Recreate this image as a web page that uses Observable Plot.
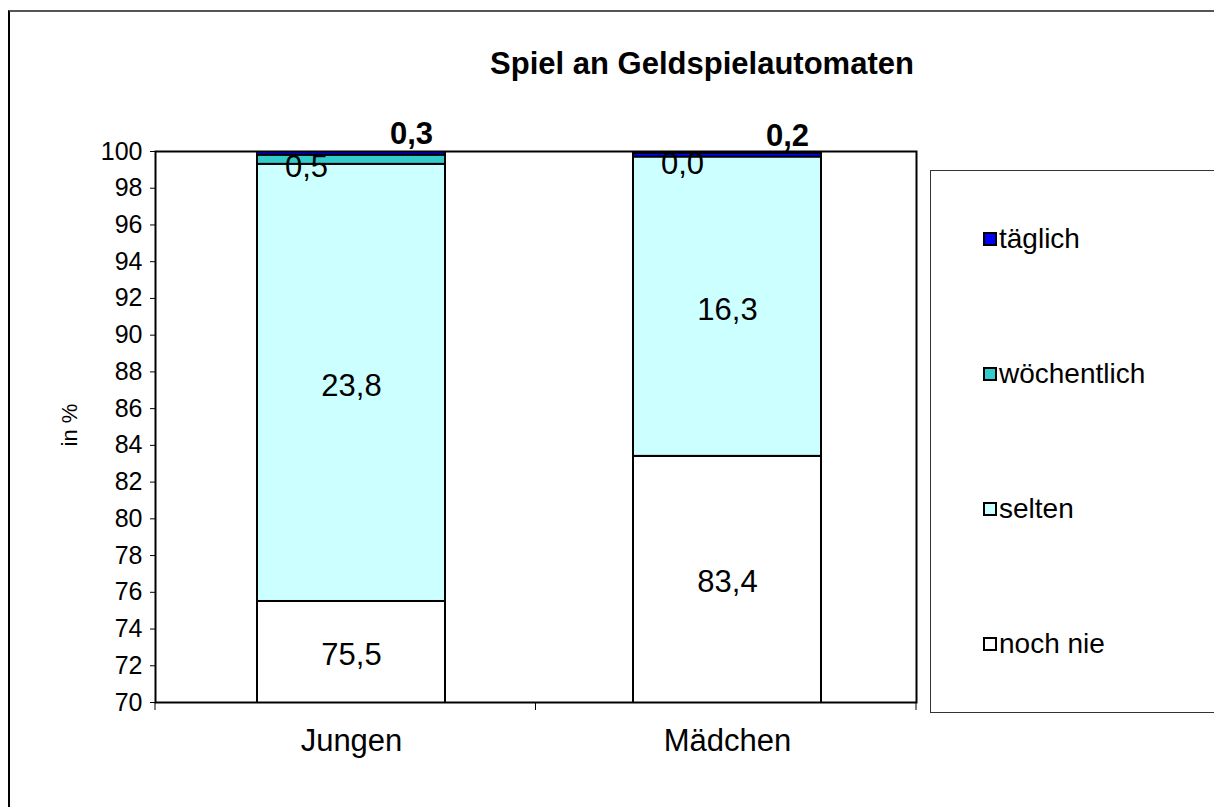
<!DOCTYPE html>
<html>
<head>
<meta charset="utf-8">
<script src="https://cdn.jsdelivr.net/npm/d3@7"></script>
<script src="https://cdn.jsdelivr.net/npm/@observablehq/plot@0.6"></script>
<style>
  html, body { margin: 0; padding: 0; background: #fff; }
  #root { position: relative; width: 1214px; height: 807px; overflow: hidden; font-family: "Liberation Sans", Arial, sans-serif; }
  #frame { position: absolute; left: 8px; top: 10px; width: 1220px; height: 810px; border-left: 2px solid #000; border-top: 2px solid #555; box-sizing: border-box; }
  #title { position: absolute; left: 402px; top: 46px; width: 600px; text-align: center; font-weight: bold; font-size: 31px; white-space: nowrap; }
  #ylabel { position: absolute; left: 70px; top: 425px; transform: translate(-50%, -50%) rotate(-90deg); font-size: 22px; white-space: nowrap; }
  #plot { position: absolute; left: 0; top: 0; }
  #legend { position: absolute; left: 930px; top: 170px; width: 290px; height: 543px; border: 1px solid #333; box-sizing: border-box; display: flex; flex-direction: column; justify-content: space-around; padding-left: 52px; }
  .item { display: flex; align-items: center; font-size: 28px; }
  .sw { width: 10px; height: 10px; border: 2px solid #000; margin-right: 2px; }
</style>
</head>
<body>
<div id="root">
  <div id="frame"></div>
  <div id="title"></div>
  <div id="ylabel"></div>
  <div id="plot"></div>
  <div id="legend"></div>
</div>
<script>
const titleText = "Spiel an Geldspielautomaten";
const yLabel = "in %";
const categories = ["Jungen", "Mädchen"];
const series = ["noch nie", "selten", "wöchentlich", "täglich"];
const nochNie = [75.5, 83.4];
const selten = [23.8, 16.3];
const woechentlich = [0.5, 0.0];
const taeglich = [0.3, 0.2];
const colors = ["#FFFFFF", "#CCFFFF", "#33CCCC", "#0000FF"];
const yDomain = [70, 100];
const yTicks = d3.range(70, 101, 2);

const seriesValues = [nochNie, selten, woechentlich, taeglich];
const fmt = v => d3.format(".1f")(v).replace(".", ",");

// rows with cumulative stack positions
const rows = [];
categories.forEach((c, ci) => {
  let acc = 0;
  series.forEach((s, si) => {
    const v = seriesValues[si][ci];
    const y1 = acc, y2 = acc + v;
    acc = y2;
    const lo = Math.max(y1, yDomain[0]), hi = Math.min(y2, yDomain[1]);
    rows.push({category: c, series: s, value: v, y1, y2, mid: (lo + hi) / 2, top: hi});
  });
});

document.getElementById("title").textContent = titleText;
document.getElementById("ylabel").textContent = yLabel;

const boundaryTicks = (index, scales, values, dims) => {
  const g = d3.create("svg:g");
  const left = dims.marginLeft, right = dims.width - dims.marginRight;
  const yb = dims.height - dims.marginBottom;
  g.selectAll("line").data([left, (left + right) / 2, right]).join("line")
    .attr("x1", d => d).attr("x2", d => d)
    .attr("y1", yb).attr("y2", yb + 8)
    .attr("stroke", "#000").attr("stroke-width", 1);
  return g.node();
};

const chart = Plot.plot({
  width: 930,
  height: 807,
  marginLeft: 155,
  marginTop: 151,
  marginRight: 14,
  marginBottom: 105,
  style: {fontFamily: "'Liberation Sans', Arial, sans-serif", color: "#000", background: "transparent"},
  x: {domain: categories, paddingInner: 0.5, paddingOuter: 0.26, align: 0.52, label: null},
  y: {domain: yDomain, label: null},
  color: {domain: series, range: colors},
  marks: [
    Plot.barY(rows, {x: "category", y1: "y1", y2: "y2", fill: "series", stroke: "#000", strokeWidth: 2, clip: true}),
    Plot.text(rows.filter(d => d.series === "noch nie" || d.series === "selten"),
      {x: "category", y: "mid", text: d => fmt(d.value), fontSize: 31, dy: 3, fill: "#000"}),
    Plot.text(rows.filter(d => d.series === "wöchentlich"),
      {x: "category", y: "mid", text: d => fmt(d.value), fontSize: 31, dx: -45, dy: 7, fill: "#000"}),
    Plot.text(rows.filter(d => d.series === "täglich"),
      {x: "category", y: "top", text: d => fmt(d.value), fontSize: 31, fontWeight: "bold", dx: 60, dy: -17, fill: "#000"}),
    Plot.frame({stroke: "#000", strokeWidth: 2}),
    Plot.axisY({ticks: yTicks, tickFormat: d => String(d), tickSize: 5, tickPadding: 8, fontSize: 25, label: null}),
    Plot.axisX({tickSize: 0, tickPadding: 26, fontSize: 31, label: null}),
    boundaryTicks
  ]
});
document.getElementById("plot").appendChild(chart);

const legend = document.getElementById("legend");
series.slice().reverse().forEach(s => {
  const item = document.createElement("div");
  item.className = "item";
  const sw = document.createElement("span");
  sw.className = "sw";
  sw.style.background = colors[series.indexOf(s)];
  const t = document.createElement("span");
  t.textContent = s;
  item.appendChild(sw);
  item.appendChild(t);
  legend.appendChild(item);
});
</script>
</body>
</html>
